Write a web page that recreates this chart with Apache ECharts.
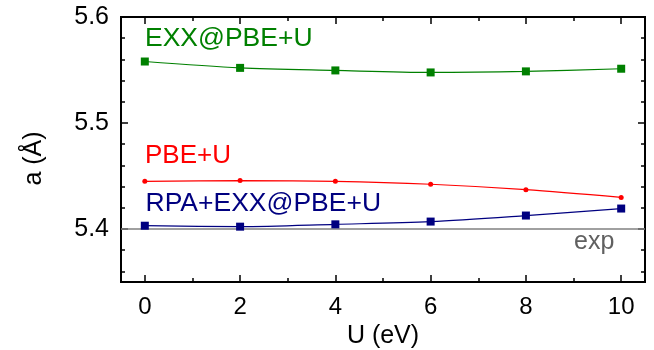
<!DOCTYPE html>
<html><head><meta charset="utf-8">
<script src="https://cdn.jsdelivr.net/npm/echarts@6/dist/echarts.min.js"></script>
<style>html,body{margin:0;padding:0;background:#fff;overflow:hidden}#c{width:654px;height:350px}</style>
</head><body><div id="c"></div>
<script>
// ---- data ----
const U = [0, 2, 4, 6, 8, 10];
const exxPbeU = [5.558, 5.552, 5.5496, 5.5477, 5.5487, 5.5512];
const pbeU = [5.445, 5.4457, 5.445, 5.4422, 5.4371, 5.4298];
const rpaExxPbeU = [5.4031, 5.4022, 5.4044, 5.407, 5.4127, 5.4193];
const EXP = 5.4;
const xMajorTicks = [0, 2, 4, 6, 8, 10];
const xMinorTicks = [1, 3, 5, 7, 9];
const yMajorTicks = [5.4, 5.5, 5.6];
const yMinorTicks = [5.36, 5.38, 5.42, 5.44, 5.46, 5.48, 5.52, 5.54, 5.56, 5.58];
const seriesNames = ['EXX@PBE+U', 'PBE+U', 'RPA+EXX@PBE+U'];
const xName = 'U (eV)';
const yName = 'a (Å)';
const expName = 'exp';

const FONT = '"Liberation Sans", Arial, Helvetica, sans-serif';
const XMIN = -0.5, XMAX = 10.5, YMIN = 5.35, YMAX = 5.6;

function mkX(pos, ticks, len, withLabels, extra) {
  return Object.assign({
    type: 'value', position: pos, min: XMIN, max: XMAX,
    splitLine: { show: false },
    axisLine: { show: true, onZero: false, lineStyle: { color: '#000', width: 2 } },
    axisTick: { show: true, inside: true, length: len, customValues: ticks, lineStyle: { color: '#000', width: 1.5 } },
    axisLabel: withLabels ? { show: true, customValues: ticks, margin: 13, fontSize: 24, color: '#000', fontFamily: FONT } : { show: false }
  }, extra || {});
}
function mkY(pos, ticks, len, withLabels, extra) {
  return Object.assign({
    type: 'value', position: pos, min: YMIN, max: YMAX,
    splitLine: { show: false },
    axisLine: { show: true, onZero: false, lineStyle: { color: '#000', width: 2 } },
    axisTick: { show: true, inside: true, length: len, customValues: ticks, lineStyle: { color: '#000', width: 1.5 } },
    axisLabel: withLabels ? { show: true, customValues: ticks, margin: 12, fontSize: 25, color: '#000', fontFamily: FONT,
      formatter: v => v.toFixed(1) } : { show: false }
  }, extra || {});
}

const pairs = arr => U.map((u, i) => [u, arr[i]]);

const option = {
  animation: false,
  backgroundColor: '#fff',
  grid: { left: 121, top: 17, right: 9, bottom: 68, containLabel: false, outerBoundsMode: 'none' },
  xAxis: [
    mkX('bottom', xMajorTicks, 7, true, {
      name: xName, nameLocation: 'middle', nameGap: 37,
      nameTextStyle: { fontSize: 25, color: '#000', fontFamily: FONT }
    }),
    mkX('bottom', xMinorTicks, 4, false),
    mkX('top', xMajorTicks, 7, false),
    mkX('top', xMinorTicks, 4, false)
  ],
  yAxis: [
    mkY('left', yMajorTicks, 7, true),
    mkY('left', yMinorTicks, 4, false),
    mkY('right', yMajorTicks, 7, false),
    mkY('right', yMinorTicks, 4, false)
  ],
  series: [
    {
      name: seriesNames[0], type: 'line', data: pairs(exxPbeU), smooth: 0.3,
      symbol: 'rect', symbolSize: 8, itemStyle: { color: '#008000' },
      lineStyle: { color: '#008000', width: 1.2 }, z: 5
    },
    {
      name: seriesNames[1], type: 'line', data: pairs(pbeU), smooth: 0.3,
      symbol: 'circle', symbolSize: 5, itemStyle: { color: '#ff0000' },
      lineStyle: { color: '#ff0000', width: 1.2 }, z: 5
    },
    {
      name: seriesNames[2], type: 'line', data: pairs(rpaExxPbeU), smooth: 0.3,
      symbol: 'rect', symbolSize: 8, itemStyle: { color: '#000080' },
      lineStyle: { color: '#000080', width: 1.2 }, z: 5,
      markLine: {
        silent: true, symbol: ['none', 'none'], label: { show: false },
        lineStyle: { color: '#808080', width: 1.5, type: 'solid' },
        data: [{ yAxis: EXP }], z: 2
      }
    }
  ],
  graphic: [
    { type: 'text', x: 145, y: 39.5, scaleX: 1.06, style: { text: seriesNames[0], fill: '#008000', font: '25px ' + FONT, verticalAlign: 'middle' } },
    { type: 'text', x: 145, y: 156, scaleX: 1.04, style: { text: seriesNames[1], fill: '#ff0000', font: '25px ' + FONT, verticalAlign: 'middle' } },
    { type: 'text', x: 145.5, y: 204.5, scaleX: 1.06, style: { text: seriesNames[2], fill: '#000080', font: '25px ' + FONT, verticalAlign: 'middle' } },
    { type: 'text', x: 574, y: 242, style: { text: expName, fill: '#606060', font: '25px ' + FONT, verticalAlign: 'middle' } },
    { type: 'text', x: 34, y: 158.5, rotation: Math.PI / 2, style: { text: yName, fill: '#000', font: '25px ' + FONT, align: 'center', verticalAlign: 'middle' } }
  ]
};

const chart = echarts.init(document.getElementById('c'), null, { renderer: 'canvas' });
chart.setOption(option);
</script>
</body></html>
